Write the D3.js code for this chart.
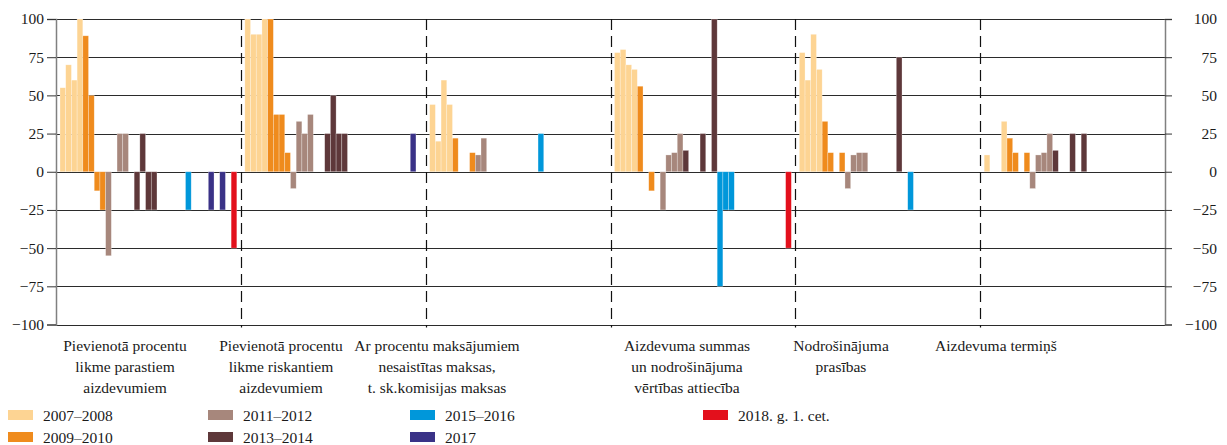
<!DOCTYPE html>
<html>
<head>
<meta charset="utf-8">
<script src="https://cdn.jsdelivr.net/npm/d3@7"></script>
<style>
  body { margin: 0; background: #fff; }
  text { font-family: "Liberation Serif", "Times New Roman", serif; fill: #1a1a1a; }
</style>
</head>
<body>
<script>
// Categories (label lines)
var categories = [
    ["Pievienotā procentu", "likme parastiem", "aizdevumiem"],
    ["Pievienotā procentu", "likme riskantiem", "aizdevumiem"],
    ["Ar procentu maksājumiem", "nesaistītas maksas,", "t. sk.komisijas maksas"],
    ["Aizdevuma summas", "un nodrošinājuma", "vērtības attiecība"],
    ["Nodrošinājuma", "prasības"],
    ["Aizdevuma termiņš"]
];

// Survey rounds: half-years until 2013, quarters from 2014
var periods = [
    "2007H1", "2007H2", "2008H1", "2008H2",
    "2009H1", "2009H2", "2010H1", "2010H2",
    "2011H1", "2011H2", "2012H1", "2012H2",
    "2013H1", "2013H2", "2014Q1", "2014Q2", "2014Q3", "2014Q4",
    "2015Q1", "2015Q2", "2015Q3", "2015Q4", "2016Q1", "2016Q2", "2016Q3", "2016Q4",
    "2017Q1", "2017Q2", "2017Q3", "2017Q4",
    "2018Q1"
];

// Legend series
var seriesNames = ["2007–2008", "2009–2010", "2011–2012", "2013–2014", "2015–2016", "2017", "2018. g. 1. cet."];
var seriesColors = ["#fdd493", "#ef8b1d", "#a7877c", "#5e383a", "#0097da", "#3a3287", "#e3101c"];

// Net percentages, one value per period for each category
var parastiem    = [55, 70, 60, 100, 89, 50, -12.5, -25, -55, 0, 25, 25, 0, -25, 25, -25, -25, 0, 0, 0, 0, 0, -25, 0, 0, 0, -25, 0, -25, 0, -50];
var riskantiem   = [100, 90, 90, 100, 100, 37.5, 37.5, 12.5, -11, 33, 25, 37.5, 0, 0, 25, 50, 25, 25, 0, 0, 0, 0, 0, 0, 0, 0, 0, 0, 0, 25, 0];
var maksas       = [44, 20, 60, 44, 22, 0, 0, 12.5, 11, 22, 0, 0, 0, 0, 0, 0, 0, 0, 0, 25, 0, 0, 0, 0, 0, 0, 0, 0, 0, 0, 0];
var attieciba    = [78, 80, 70, 67, 56, 0, -12.5, 0, -25, 11, 12.5, 25, 14, 0, 0, 25, 0, 100, -75, -25, -25, 0, 0, 0, 0, 0, 0, 0, 0, 0, -50];
var prasibas     = [78, 60, 90, 67, 33, 12.5, 0, 12.5, -11, 11, 12.5, 12.5, 0, 0, 0, 0, 0, 75, 0, -25, 0, 0, 0, 0, 0, 0, 0, 0, 0, 0, 0];
var termins      = [11, 0, 0, 33, 22, 12.5, 0, 12.5, -11, 11, 12.5, 25, 14, 0, 0, 25, 0, 25, 0, 0, 0, 0, 0, 0, 0, 0, 0, 0, 0, 0, 0];
var values = [parastiem, riskantiem, maksas, attieciba, prasibas, termins];

var yTicks = [-100, -75, -50, -25, 0, 25, 50, 75, 100];

// which legend series a period belongs to
function seriesOf(p) {
    var y = +p.slice(0, 4);
    if (y <= 2008) return 0;
    if (y <= 2010) return 1;
    if (y <= 2012) return 2;
    if (y <= 2014) return 3;
    if (y <= 2016) return 4;
    if (y === 2017) return 5;
    return 6;
}

function init() {
    var width = 1227, height = 445;
    var left = 56, right = 1165, top = 19, bottom = 324.5;

    var svg = d3.select("body").append("svg")
        .attr("width", width)
        .attr("height", height);

    var x0 = d3.scaleBand()
        .domain(d3.range(categories.length))
        .range([left, right]);

    var x1 = d3.scaleBand()
        .domain(periods)
        .range([4, x0.bandwidth() - 4]);

    var y = d3.scaleLinear()
        .domain([-100, 100])
        .range([bottom, top]);

    // horizontal grid lines
    svg.append("g").selectAll("line")
        .data(yTicks)
        .enter().append("line")
        .attr("x1", left).attr("x2", right)
        .attr("y1", d => Math.round(y(d)) + 0.5)
        .attr("y2", d => Math.round(y(d)) + 0.5)
        .attr("stroke", "#2b2b2b")
        .attr("stroke-width", 1);

    // bars
    var groups = svg.append("g").selectAll("g")
        .data(values)
        .enter().append("g")
        .attr("transform", (d, i) => "translate(" + x0(i) + ",0)");

    groups.selectAll("rect")
        .data(d => d.map((v, j) => ({ period: periods[j], value: v })).filter(e => e.value !== 0))
        .enter().append("rect")
        .attr("x", d => x1(d.period))
        .attr("width", x1.bandwidth())
        .attr("y", d => y(Math.max(0, d.value)))
        .attr("height", d => Math.abs(y(d.value) - y(0)))
        .attr("fill", d => seriesColors[seriesOf(d.period)])
        .attr("stroke", "#ffffff")
        .attr("stroke-opacity", 0.45)
        .attr("stroke-width", 0.6);

    // dashed separators between categories
    svg.append("g").selectAll("line")
        .data(d3.range(1, categories.length))
        .enter().append("line")
        .attr("x1", d => Math.round(x0(d)) + 0.5)
        .attr("x2", d => Math.round(x0(d)) + 0.5)
        .attr("y1", top)
        .attr("y2", bottom + 3)
        .attr("stroke", "#111")
        .attr("stroke-width", 1.2)
        .attr("stroke-dasharray", "11,6");

    // axes
    var leftAxis = d3.axisLeft(y).tickValues(yTicks).tickSize(9).tickPadding(3);
    var rightAxis = d3.axisRight(y).tickValues(yTicks).tickSize(7).tickPadding(3);

    var gl = svg.append("g")
        .attr("transform", "translate(" + left + ",0)")
        .call(leftAxis);
    var gr = svg.append("g")
        .attr("transform", "translate(" + right + ",0)")
        .call(rightAxis);

    [gl, gr].forEach(function(g) {
        g.select(".domain").attr("stroke", "#808080").attr("stroke-width", 1.5);
        g.selectAll(".tick line").attr("stroke", "#333");
        g.selectAll("text")
            .style("font-family", "'Liberation Serif', serif")
            .style("font-size", "15.5px")
            .attr("fill", "#1a1a1a");
    });
    gr.selectAll("text").attr("text-anchor", "end").attr("x", 52);

    // category labels
    var labelX = [125, 281, 437, 687, 841, 996];
    svg.append("g").selectAll("text")
        .data(categories)
        .enter().append("text")
        .attr("text-anchor", "middle")
        .attr("font-size", "15.5px")
        .each(function(lines, i) {
            d3.select(this).selectAll("tspan")
                .data(lines)
                .enter().append("tspan")
                .attr("x", labelX[i])
                .attr("y", (d, k) => 351 + k * 21)
                .text(d => d);
        });

    // legend
    var legendX = [8, 208, 410, 703];
    var legend = svg.append("g");
    var items = legend.selectAll("g")
        .data(seriesNames)
        .enter().append("g")
        .attr("transform", (d, i) => "translate(" + legendX[Math.floor(i / 2)] + "," + (410 + (i % 2) * 22) + ")");
    items.append("rect")
        .attr("width", 25).attr("height", 10)
        .attr("fill", (d, i) => seriesColors[i]);
    items.append("text")
        .attr("x", 35).attr("y", 11)
        .attr("font-size", "15.5px")
        .text(d => d);
}

window.onload = init;
</script>
</body>
</html>
